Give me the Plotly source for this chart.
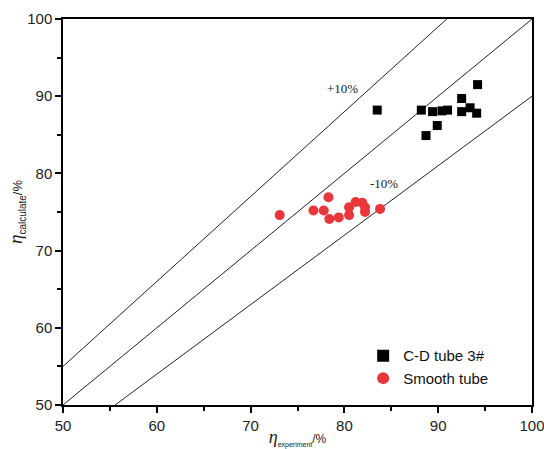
import plotly.graph_objects as go

# C-D tube 3# (black squares)
cd_exp = [83.5, 88.2, 89.4, 90.4, 91.0, 92.5, 92.5, 93.4, 94.1, 94.2, 89.9, 88.7]
cd_calc = [88.2, 88.2, 88.0, 88.1, 88.2, 89.7, 88.0, 88.5, 87.8, 91.5, 86.2, 84.9]

# Smooth tube (red circles)
sm_exp = [73.1, 76.7, 77.8, 78.3, 78.4, 79.4, 80.5, 80.5, 81.2, 81.9, 82.2, 82.2, 83.8]
sm_calc = [74.6, 75.2, 75.2, 76.9, 74.1, 74.3, 75.6, 74.6, 76.3, 76.2, 75.6, 75.0, 75.4]

ref_x = [50, 100]
ratios = [1.0, 1.1, 0.9]
x_ticks = [50, 60, 70, 80, 90, 100]
y_ticks = [50, 60, 70, 80, 90, 100]

fig = go.Figure()
for r in ratios:
    fig.add_trace(go.Scatter(x=ref_x, y=[v * r for v in ref_x], mode="lines",
                             line=dict(color="#222", width=1), showlegend=False,
                             hoverinfo="skip"))

fig.add_trace(go.Scatter(x=cd_exp, y=cd_calc, mode="markers", name="C-D tube 3#",
                         marker=dict(symbol="square", size=9, color="black")))
fig.add_trace(go.Scatter(x=sm_exp, y=sm_calc, mode="markers", name="Smooth tube",
                         marker=dict(symbol="circle", size=10, color="#e8363a")))

fig.add_annotation(x=79.8, y=91.0, text="+10%", showarrow=False,
                   font=dict(family="Liberation Serif", size=13, color="#222"))
fig.add_annotation(x=84.2, y=78.7, text="-10%", showarrow=False,
                   font=dict(family="Liberation Serif", size=13, color="#222"))

axis_common = dict(showline=True, linecolor="black", linewidth=1.5, mirror=True,
                   showgrid=False, zeroline=False, ticks="outside", ticklen=6,
                   tickwidth=1.5, tickcolor="black", automargin=False,
                   ticklabeloverflow="allow",
                   tickfont=dict(family="Liberation Sans", size=15, color="#222"),
                   minor=dict(ticks="outside", dtick=5, ticklen=4, tickwidth=1.5,
                              tickcolor="black"))

fig.update_xaxes(range=[50, 100], tickvals=x_ticks, **axis_common,
                 title=dict(text="<i>η</i><sub><span style='font-family:Liberation Sans;font-size:7px'>experiment</span></sub>"
                                 "<span style='font-family:Liberation Sans;font-size:12px'>/%</span>",
                            font=dict(family="Liberation Serif", size=18, color="#222"),
                            standoff=0))
fig.update_yaxes(range=[50, 100], tickvals=y_ticks, **axis_common,
                 title=dict(text="<i>η</i><sub><span style='font-family:Liberation Sans;font-size:10px'>calculate</span></sub>"
                                 "<span style='font-family:Liberation Sans;font-size:13px'>/%</span>",
                            font=dict(family="Liberation Serif", size=19, color="#222"),
                            standoff=0))

fig.update_layout(width=544, height=449,
                  margin=dict(l=63, r=12, t=19, b=44),
                  plot_bgcolor="white", paper_bgcolor="white",
                  legend=dict(x=0.64, y=0.17, xanchor="left", yanchor="top",
                              bgcolor="rgba(0,0,0,0)",
                              font=dict(family="Liberation Sans", size=15, color="#111"),
                              itemsizing="constant", tracegroupgap=2))

fig.write_html("out.html", config={"displayModeBar": False},
               post_script="document.body.style.margin='0';document.body.style.overflow='hidden';")
